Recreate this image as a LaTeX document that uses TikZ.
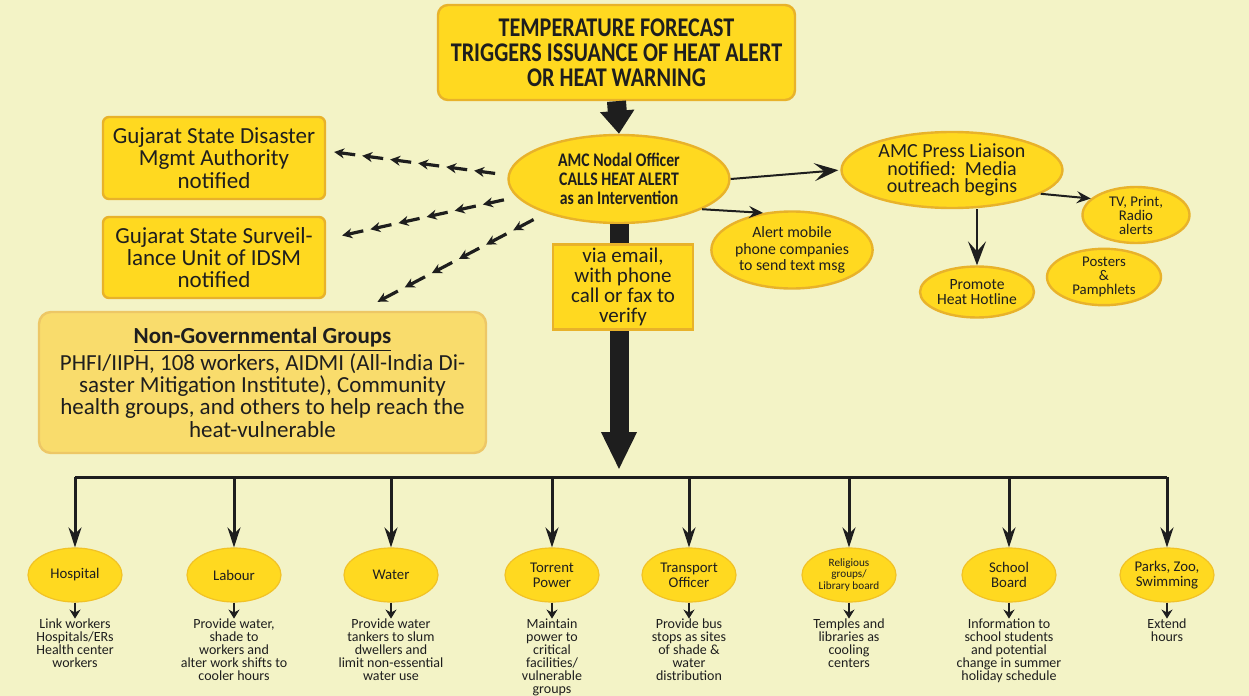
\documentclass[tikz,border=0pt]{standalone}
\usepackage{fontspec}
\setmainfont{Carlito}
\newfontfamily\condfont[FakeStretch=0.82]{Carlito}
\usetikzlibrary{arrows.meta,positioning,calc,shapes.geometric}
\definecolor{pageBg}{HTML}{F3F3C6}
\definecolor{alertYellow}{HTML}{FFD920}
\definecolor{alertEdge}{HTML}{E8B22A}
\definecolor{ngoYellow}{HTML}{F9DC6C}
\definecolor{ngoEdge}{HTML}{EDC766}
\definecolor{inkBlack}{HTML}{1E1E1E}

\begin{document}
\begin{tikzpicture}[
x=0.5pt, y=-0.5pt,
every node/.style={text=inkBlack},
ybox/.style={draw=alertEdge, fill=alertYellow, line width=1.2pt, rounded corners=3pt, align=center, inner sep=2pt},
yell/.style={ellipse, draw=alertEdge, fill=alertYellow, line width=1.2pt, align=center, inner sep=0pt},
busell/.style={ellipse, draw=alertEdge!60!alertYellow, fill=alertYellow, line width=0.6pt, align=center, inner sep=0pt, minimum width=47pt, minimum height=27pt, font=\fontsize{7.4}{7.4}\selectfont},
task/.style={align=center, inner sep=0pt, font=\fontsize{7}{6.5}\selectfont},
fatarr/.style={-{Triangle[width=16.5pt,length=#1]}, line width=9.5pt, draw=inkBlack},
fatarr/.default=19pt,
thinarr/.style={-{Stealth[length=12pt,width=9pt,inset=5pt]}, line width=1pt, draw=inkBlack},
smallarr/.style={-{Stealth[length=7pt,width=6pt,inset=2.5pt]}, line width=1pt, draw=inkBlack},
darr/.style={-{Stealth[length=5pt,width=5pt]}, line width=1.6pt, draw=inkBlack},
busarr/.style={-{Stealth[length=10pt,width=6.5pt]}, line width=1.5pt, draw=inkBlack},
taskarr/.style={-{Stealth[length=4.5pt,width=5.5pt]}, line width=1.2pt, draw=inkBlack}
]
\useasboundingbox (0,0) rectangle (1249,696);
\fill[pageBg] (0,0) rectangle (1249,696);

% trigger and nodal officer
\node[ybox, rounded corners=5pt, minimum width=178.5pt, minimum height=47.5pt, font=\condfont\bfseries\fontsize{13.5}{12.5}\selectfont] (forecast) at (616.5,52.5) {TEMPERATURE FORECAST\\TRIGGERS ISSUANCE OF HEAT ALERT\\OR HEAT WARNING};
\node[yell, minimum width=110.5pt, minimum height=44pt, font=\condfont\bfseries\fontsize{9.6}{9.6}\selectfont] (nodal) at (619,179) {AMC Nodal Officer\\CALLS HEAT ALERT\\as an Intervention};
\draw[fatarr=11.5pt] (forecast.south) -- (nodal.north);

% main channel down to the departments
\coordinate (mainTip) at (619,470);
\draw[fatarr] (nodal.south) -- (mainTip);
\node[ybox, rounded corners=0pt, minimum width=70pt, minimum height=41pt, font=\fontsize{10.5}{9.9}\selectfont] (via) at (623,287) {via email,\\with phone\\call or fax to\\verify};

% state agencies and NGOs (dashed)
\node[ybox, minimum width=111pt, minimum height=41pt, font=\fontsize{11.5}{11.2}\selectfont] (gsdma) at (214,158) {Gujarat State Disaster\\Mgmt Authority\\notified};
\node[ybox, minimum width=111pt, minimum height=40.5pt, font=\fontsize{11.5}{11.2}\selectfont] (gssu) at (214,257.5) {Gujarat State Surveil-\\lance Unit of IDSM\\notified};
\node[ybox, draw=ngoEdge, fill=ngoYellow, rounded corners=6pt, minimum width=223.5pt, minimum height=70.5pt, font=\fontsize{11.5}{11.1}\selectfont] (ngo) at (262.5,382.5) {\underline{\bfseries\fontsize{11.5}{11.1}\selectfont Non-Governmental Groups}\\PHFI/IIPH, 108 workers, AIDMI (All-India Di-\\saster Mitigation Institute), Community\\health groups, and others to help reach the\\heat-vulnerable};

\coordinate (d1s) at (nodal.178); \coordinate (d1e) at ($(gsdma.east)+(8,-6)$);
\coordinate (d2s) at (nodal.190); \coordinate (d2e) at ($(gssu.east)+(16,-22)$);
\coordinate (d3s) at (nodal.205); \coordinate (d3e) at ($(ngo.north)+(115,-9)$);
\foreach \s/\e in {d1s/d1e,d2s/d2e,d3s/d3e}
  \foreach \i in {0,...,5}
    \draw[darr] ($(\s)!{(\i+0.45)/6.2}!(\e)$) -- ($(\s)!{(\i+1.2)/6.2}!(\e)$);

% media branch
\node[yell, minimum width=110.5pt, minimum height=38pt, font=\fontsize{10}{8.8}\selectfont] (press) at (952,170) {AMC Press Liaison\\notified:\ \ Media\\outreach begins};
\node[yell, minimum width=69.5pt, minimum height=38.5pt, font=\fontsize{7.9}{8.4}\selectfont] (alert) at (792,250) {Alert mobile\\phone companies\\to send text msg};
\node[yell, minimum width=53.5pt, minimum height=28pt, font=\fontsize{7.4}{7}\selectfont] (tv) at (1136,215) {TV, Print,\\Radio\\alerts};
\node[yell, minimum width=57pt, minimum height=27.5pt, font=\fontsize{7.4}{7}\selectfont] (posters) at (1104,277) {Posters\\\&\\Pamphlets};
\node[yell, minimum width=57pt, minimum height=25.5pt, font=\fontsize{7.8}{7.8}\selectfont] (hotline) at (977,292) {Promote\\Heat Hotline};
\draw[thinarr, shorten >=1pt] (nodal.east) -- (press.west);
\draw[smallarr] (nodal.340) -- (alert.128);
\draw[smallarr] (press.345) -- (tv.160);
\draw[thinarr] (press.south -| hotline.north) -- (hotline.north);

% departments
\node[busell] (hosp) at (75,575) {Hospital};
\node[busell] (labour) at (234,575) {Labour};
\node[busell] (water) at (391,575) {Water};
\node[busell] (power) at (552,575) {Torrent\\Power};
\node[busell] (transport) at (689,575) {Transport\\Officer};
\node[busell, font=\fontsize{5.6}{5.6}\selectfont] (relig) at (849,575) {Religious\\groups/\\Library board};
\node[busell] (school) at (1009,575) {School\\Board};
\node[busell] (parks) at (1167,575) {Parks, Zoo,\\Swimming};

\coordinate (busL) at (75,477); \coordinate (busR) at (1167,477);
\draw[line width=1.5pt, draw=inkBlack] (busL) -- (busR);
\foreach \n in {hosp,labour,water,power,transport,relig,school,parks}
  \draw[busarr] (\n.north |- busL) -- (\n.north);

\node[task, below=8pt of hosp] (hospTask) {Link workers\\Hospitals/ERs\\Health center\\workers};
\node[task, below=8pt of labour] (labourTask) {Provide water,\\shade to\\workers and\\alter work shifts to\\cooler hours};
\node[task, below=8pt of water] (waterTask) {Provide water\\tankers to slum\\dwellers and\\limit non-essential\\water use};
\node[task, below=8pt of power] (powerTask) {Maintain\\power to\\critical\\facilities/\\vulnerable\\groups};
\node[task, below=8pt of transport] (transportTask) {Provide bus\\stops as sites\\of shade \&\\water\\distribution};
\node[task, below=8pt of relig] (religTask) {Temples and\\libraries as\\cooling\\centers};
\node[task, below=8pt of school] (schoolTask) {Information to\\school students\\and potential\\change in summer\\holiday schedule};
\node[task, below=8pt of parks] (parksTask) {Extend\\hours};
\foreach \n in {hosp,labour,water,power,transport,relig,school,parks}
  \draw[taskarr] (\n.south) -- (\n Task.north);
\end{tikzpicture}
\end{document}
